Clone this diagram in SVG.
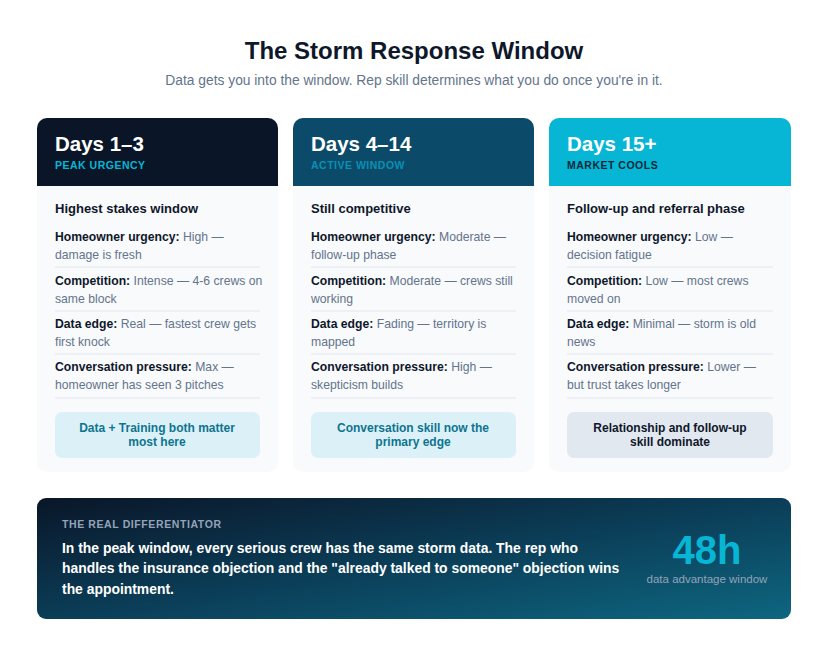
<svg xmlns="http://www.w3.org/2000/svg" width="828" height="656" viewBox="0 0 828 656">
<defs>
<style>
text{font-family:"Liberation Sans",Arial,sans-serif}
.t{font-size:24px;font-weight:bold;fill:#0f172a}
.sub{font-size:13.8px;fill:#64748b}
.h{font-size:20.5px;font-weight:bold;fill:#fff}
.tag{font-size:10.5px;font-weight:bold;letter-spacing:0.5px}
.st{font-size:13px;font-weight:bold;fill:#0f172a}
.r{font-size:12.2px;fill:#64748b}
.r tspan.b{font-weight:bold;fill:#0f172a}
.sep{stroke:#e2e8f0;stroke-width:1}
.cb{font-size:12px;font-weight:bold;text-anchor:middle}
.bn{font-size:13.9px;font-weight:bold;fill:#fff}
</style>
<linearGradient id="bg" x1="0" y1="0" x2="1" y2="1">
<stop offset="0" stop-color="#0a1628"/><stop offset="0.5" stop-color="#0b3d57"/><stop offset="1" stop-color="#0e6680"/>
</linearGradient>
<clipPath id="c1"><rect x="37" y="118" width="241" height="354" rx="10"/></clipPath>
<clipPath id="c2"><rect x="293" y="118" width="241" height="354" rx="10"/></clipPath>
<clipPath id="c3"><rect x="549" y="118" width="242" height="354" rx="10"/></clipPath>
</defs>
<rect width="828" height="656" fill="#fff"/>
<text x="414" y="59" text-anchor="middle" class="t">The Storm Response Window</text>
<text x="414" y="85" text-anchor="middle" class="sub">Data gets you into the window. Rep skill determines what you do once you're in it.</text>

<g id="card1" clip-path="url(#c1)">
<rect x="37" y="118" width="241" height="354" fill="#f8fafc"/>
<rect x="37" y="118" width="241" height="68" fill="#0a1628"/>
<text x="55" y="151" class="h">Days 1–3</text>
<text x="55" y="169" class="tag" fill="#06b6d4">PEAK URGENCY</text>
<text x="55" y="213" class="st">Highest stakes window</text>
<text x="55" y="241" class="r"><tspan class="b">Homeowner urgency:</tspan> High —</text>
<text x="55" y="259" class="r">damage is fresh</text>
<line x1="55" y1="267" x2="260" y2="267" class="sep"/>
<text x="55" y="285" class="r"><tspan class="b">Competition:</tspan> Intense — 4-6 crews on</text>
<text x="55" y="303" class="r">same block</text>
<line x1="55" y1="311" x2="260" y2="311" class="sep"/>
<text x="55" y="328" class="r"><tspan class="b">Data edge:</tspan> Real — fastest crew gets</text>
<text x="55" y="346" class="r">first knock</text>
<line x1="55" y1="354" x2="260" y2="354" class="sep"/>
<text x="55" y="371" class="r"><tspan class="b">Conversation pressure:</tspan> Max —</text>
<text x="55" y="389" class="r">homeowner has seen 3 pitches</text>
<line x1="55" y1="398" x2="260" y2="398" class="sep"/>
<rect x="55" y="412" width="205" height="46" rx="7" fill="#dbf1f7"/>
<text x="157" y="432" class="cb" fill="#0e7490">Data + Training both matter</text>
<text x="157" y="446" class="cb" fill="#0e7490">most here</text>
</g>

<g id="card2" clip-path="url(#c2)">
<rect x="293" y="118" width="241" height="354" fill="#f8fafc"/>
<rect x="293" y="118" width="241" height="68" fill="#0c4a6a"/>
<text x="311" y="151" class="h">Days 4–14</text>
<text x="311" y="169" class="tag" fill="#0891b2">ACTIVE WINDOW</text>
<text x="311" y="213" class="st">Still competitive</text>
<text x="311" y="241" class="r"><tspan class="b">Homeowner urgency:</tspan> Moderate —</text>
<text x="311" y="259" class="r">follow-up phase</text>
<line x1="311" y1="267" x2="516" y2="267" class="sep"/>
<text x="311" y="285" class="r"><tspan class="b">Competition:</tspan> Moderate — crews still</text>
<text x="311" y="303" class="r">working</text>
<line x1="311" y1="311" x2="516" y2="311" class="sep"/>
<text x="311" y="328" class="r"><tspan class="b">Data edge:</tspan> Fading — territory is</text>
<text x="311" y="346" class="r">mapped</text>
<line x1="311" y1="354" x2="516" y2="354" class="sep"/>
<text x="311" y="371" class="r"><tspan class="b">Conversation pressure:</tspan> High —</text>
<text x="311" y="389" class="r">skepticism builds</text>
<line x1="311" y1="398" x2="516" y2="398" class="sep"/>
<rect x="311" y="412" width="205" height="46" rx="7" fill="#dbf1f7"/>
<text x="413" y="432" class="cb" fill="#0e7490">Conversation skill now the</text>
<text x="413" y="446" class="cb" fill="#0e7490">primary edge</text>
</g>

<g id="card3" clip-path="url(#c3)">
<rect x="549" y="118" width="242" height="354" fill="#f8fafc"/>
<rect x="549" y="118" width="242" height="68" fill="#06b6d4"/>
<text x="567" y="151" class="h">Days 15+</text>
<text x="567" y="169" class="tag" fill="#0a2a3a">MARKET COOLS</text>
<text x="567" y="213" class="st">Follow-up and referral phase</text>
<text x="567" y="241" class="r"><tspan class="b">Homeowner urgency:</tspan> Low —</text>
<text x="567" y="259" class="r">decision fatigue</text>
<line x1="567" y1="267" x2="773" y2="267" class="sep"/>
<text x="567" y="285" class="r"><tspan class="b">Competition:</tspan> Low — most crews</text>
<text x="567" y="303" class="r">moved on</text>
<line x1="567" y1="311" x2="773" y2="311" class="sep"/>
<text x="567" y="328" class="r"><tspan class="b">Data edge:</tspan> Minimal — storm is old</text>
<text x="567" y="346" class="r">news</text>
<line x1="567" y1="354" x2="773" y2="354" class="sep"/>
<text x="567" y="371" class="r"><tspan class="b">Conversation pressure:</tspan> Lower —</text>
<text x="567" y="389" class="r">but trust takes longer</text>
<line x1="567" y1="398" x2="773" y2="398" class="sep"/>
<rect x="567" y="412" width="206" height="46" rx="7" fill="#e2e8f0"/>
<text x="670" y="432" class="cb" fill="#0f172a">Relationship and follow-up</text>
<text x="670" y="446" class="cb" fill="#0f172a">skill dominate</text>
</g>

<g id="banner">
<rect x="37" y="498" width="754" height="121" rx="9" fill="url(#bg)"/>
<text x="62" y="528" font-size="10.5" font-weight="bold" fill="#94a3b8" letter-spacing="0.6">THE REAL DIFFERENTIATOR</text>
<text x="62" y="553" class="bn">In the peak window, every serious crew has the same storm data. The rep who</text>
<text x="62" y="573" class="bn">handles the insurance objection and the "already talked to someone" objection wins</text>
<text x="62" y="594" class="bn">the appointment.</text>
<text x="707" y="564" text-anchor="middle" font-size="40" font-weight="bold" fill="#06b6d4">48h</text>
<text x="707" y="583" text-anchor="middle" font-size="11.5" fill="#94a3b8">data advantage window</text>
</g>
</svg>
